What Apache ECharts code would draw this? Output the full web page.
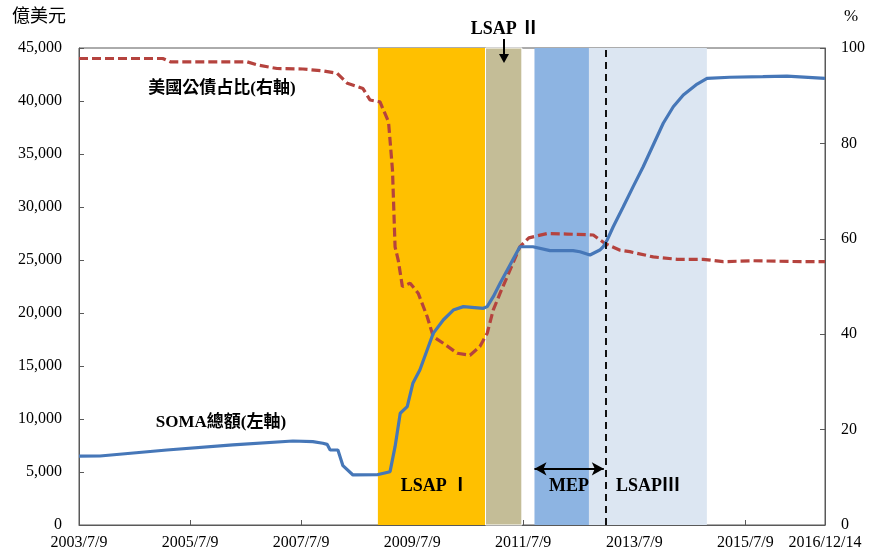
<!DOCTYPE html>
<html><head><meta charset="utf-8">
<script src="https://cdn.jsdelivr.net/npm/echarts@6/dist/echarts.min.js"></script>
<style>html,body{margin:0;padding:0;background:#fff}#c{width:869px;height:554px}</style>
</head><body><div id="c"></div>
<script>
// SOMA total (left axis, 億美元)
const somaDates = ['2003/7/9','2003/11/24','2005/2/6','2006/4/16','2007/5/16','2007/9/24','2007/11/29','2007/12/27','2008/1/16','2008/3/7','2008/4/9','2008/6/14','2008/11/20','2009/2/13','2009/3/18','2009/4/21','2009/6/6','2009/7/13','2009/8/28','2009/10/15','2009/11/24','2010/1/29','2010/4/5','2010/6/10','2010/10/20','2010/11/14','2010/12/24','2011/2/7','2011/6/17','2011/9/11','2012/1/1','2012/6/1','2012/7/16','2012/9/20','2012/11/24','2012/12/16','2013/1/11','2013/2/20','2013/4/27','2013/7/1','2013/9/5','2013/11/10','2014/1/15','2014/3/22','2014/5/27','2014/8/26','2014/10/30','2015/3/29','2015/11/1','2016/4/8','2016/12/14'];
const somaValues = [6500,6510,7075,7550,7925,7860,7710,7610,7075,7075,5600,4720,4740,5030,7390,10540,11160,13370,14620,16510,18080,19340,20280,20600,20440,20600,21540,22800,26250,26250,25880,25880,25780,25470,25940,26250,26890,28140,30030,31920,33800,35850,37900,39460,40570,41600,42140,42240,42300,42350,42140];
// Share of US Treasuries (right axis, %)
const shareDates = ['2003/7/9','2005/1/10','2005/3/1','2006/7/19','2006/10/1','2007/2/1','2007/7/21','2007/11/29','2008/3/2','2008/5/8','2008/8/19','2008/10/4','2008/12/9','2009/2/3','2009/3/1','2009/3/18','2009/4/8','2009/5/5','2009/6/25','2009/8/17','2009/10/15','2009/11/24','2010/1/29','2010/5/1','2010/7/24','2010/9/27','2010/11/14','2010/12/24','2011/2/7','2011/6/17','2011/8/15','2011/12/12','2012/4/22','2012/10/12','2012/12/28','2013/4/6','2013/6/9','2013/11/10','2014/4/16','2014/10/4','2015/2/13','2015/8/28','2016/7/22','2016/12/14'];
const shareValues = [97.8,97.8,97.1,97.1,96.4,95.7,95.6,95.2,94.7,92.6,91.5,89.1,88.7,84.5,74.4,58.3,55.5,50.0,50.7,48.6,43.7,39.5,38.1,36.0,35.6,37.4,40.2,45.1,48.6,58.3,60.2,61.1,61.0,60.8,59.0,57.6,57.3,56.2,55.7,55.7,55.2,55.4,55.2,55.2];
// Axis tick labels
const xTickLabels = ['2003/7/9','2005/7/9','2007/7/9','2009/7/9','2011/7/9','2013/7/9','2015/7/9','2016/12/14'];
// Program periods
const programNames = ['LSAP Ⅰ','LSAP Ⅱ','MEP','LSAPⅢ'];
const programStarts = ['2008/11/25','2010/11/3','2011/9/21','2012/9/13'];
const programEnds = ['2010/11/3','2011/6/30','2012/12/31','2014/10/29'];
const programColors = ['#FFC000','#C4BD97','#8DB4E2','#DCE6F2'];
const mepEndLine = '2012/12/31';

function ts(s){const p=s.split('/').map(Number);return new Date(p[0],p[1]-1,p[2]).getTime();}
function fmt(v){const d=new Date(v);return d.getFullYear()+'/'+(d.getMonth()+1)+'/'+d.getDate();}

const serif = '"Liberation Serif","Times New Roman","Noto Sans CJK TC",serif';
const cjk = '"Liberation Serif","Noto Sans CJK TC",serif';
const axisColor = '#595959';

const chart = echarts.init(document.getElementById('c'));
chart.setOption({
  animation:false,
  backgroundColor:'#fff',
  grid:{left:79,right:44,top:48,bottom:29,show:true,borderColor:axisColor,borderWidth:1,containLabel:false},
  xAxis:{
    type:'value', min:ts(xTickLabels[0]), max:ts(xTickLabels[xTickLabels.length-1]),
    axisLine:{lineStyle:{color:axisColor}},
    splitLine:{show:false},
    axisTick:{inside:true,length:5,lineStyle:{color:axisColor},customValues:xTickLabels.slice(1,-1).map(ts)},
    axisLabel:{customValues:xTickLabels.map(ts),formatter:v=>fmt(v),color:'#000',fontFamily:serif,fontSize:16,margin:10,hideOverlap:false,showMinLabel:true,showMaxLabel:true}
  },
  yAxis:[
    {type:'value',min:0,max:45000,interval:5000,
     axisLine:{show:true,lineStyle:{color:axisColor}},splitLine:{show:false},
     axisTick:{show:true,inside:true,length:5,lineStyle:{color:axisColor}},
     axisLabel:{formatter:v=>v.toLocaleString('en-US'),color:'#000',fontFamily:serif,fontSize:16,margin:17}},
    {type:'value',min:0,max:100,interval:20,position:'right',
     axisLine:{show:true,lineStyle:{color:axisColor}},splitLine:{show:false},
     axisTick:{show:true,inside:true,length:5,lineStyle:{color:axisColor}},
     axisLabel:{color:'#000',fontFamily:serif,fontSize:16,margin:16}}
  ],
  series:[
    {type:'line',name:'bands',data:[],yAxisIndex:0,z:1,silent:true,
     markArea:{silent:true,data:programStarts.map((s,i)=>[
        {xAxis:ts(s),itemStyle:{color:programColors[i],borderColor:i===1?'#fff':'transparent',borderWidth:i===1?1:0}},
        {xAxis:ts(programEnds[i])}])},
     markLine:{silent:true,symbol:'none',label:{show:false},
       lineStyle:{color:'#111',type:[7,5],width:2},
       data:[{xAxis:ts(mepEndLine)}]}
    },
    {type:'line',name:'美國公債占比(右軸)',yAxisIndex:1,z:3,showSymbol:false,symbol:'none',
     data:shareDates.map((d,i)=>[ts(d),shareValues[i]]),
     lineStyle:{color:'#B5433E',width:3.2,type:[9,4]}},
    {type:'line',name:'SOMA總額(左軸)',yAxisIndex:0,z:4,showSymbol:false,symbol:'none',
     data:somaDates.map((d,i)=>[ts(d),somaValues[i]]),
     lineStyle:{color:'#4677B8',width:3.2},
     markLine:{silent:true,symbol:['arrow','arrow'],symbolSize:[10,12],label:{show:false},
       lineStyle:{color:'#000',type:'solid',width:2},
       data:[[{coord:[ts(programStarts[2]),5300]},{coord:[ts('2012/12/20'),5300]}]]}
    }
  ],
  graphic:[
    {type:'text',z:100,left:12,top:8,style:{text:'億美元',font:'18px '+cjk,fill:'#000'}},
    {type:'text',z:100,left:844,top:8,style:{text:'%',font:'17px '+serif,fill:'#000'}},
    {type:'text',z:100,x:222,y:89,style:{text:'美國公債占比(右軸)',font:'bold 17px '+cjk,fill:'#000',align:'center',verticalAlign:'middle'}},
    {type:'text',z:100,x:221,y:423,style:{text:'SOMA總額(左軸)',font:'bold 17px '+cjk,fill:'#000',align:'center',verticalAlign:'middle'}},
    {type:'text',z:100,x:435,y:486,style:{text:programNames[0],font:'bold 18px '+cjk,fill:'#000',align:'center',verticalAlign:'middle'}},
    {type:'text',z:100,x:569,y:486,style:{text:programNames[2],font:'bold 18px '+cjk,fill:'#000',align:'center',verticalAlign:'middle'}},
    {type:'text',z:100,x:648,y:486,style:{text:programNames[3],font:'bold 18px '+cjk,fill:'#000',align:'center',verticalAlign:'middle'}},
    {type:'text',z:100,x:505,y:29,style:{text:programNames[1],font:'bold 18px '+cjk,fill:'#000',align:'center',verticalAlign:'middle'}},
    {type:'line',z:100,shape:{x1:504,y1:39,x2:504,y2:56},style:{stroke:'#000',lineWidth:2}},
    {type:'polygon',z:100,shape:{points:[[499,54],[509,54],[504,63]]},style:{fill:'#000'}}
  ]
});
</script></body></html>
